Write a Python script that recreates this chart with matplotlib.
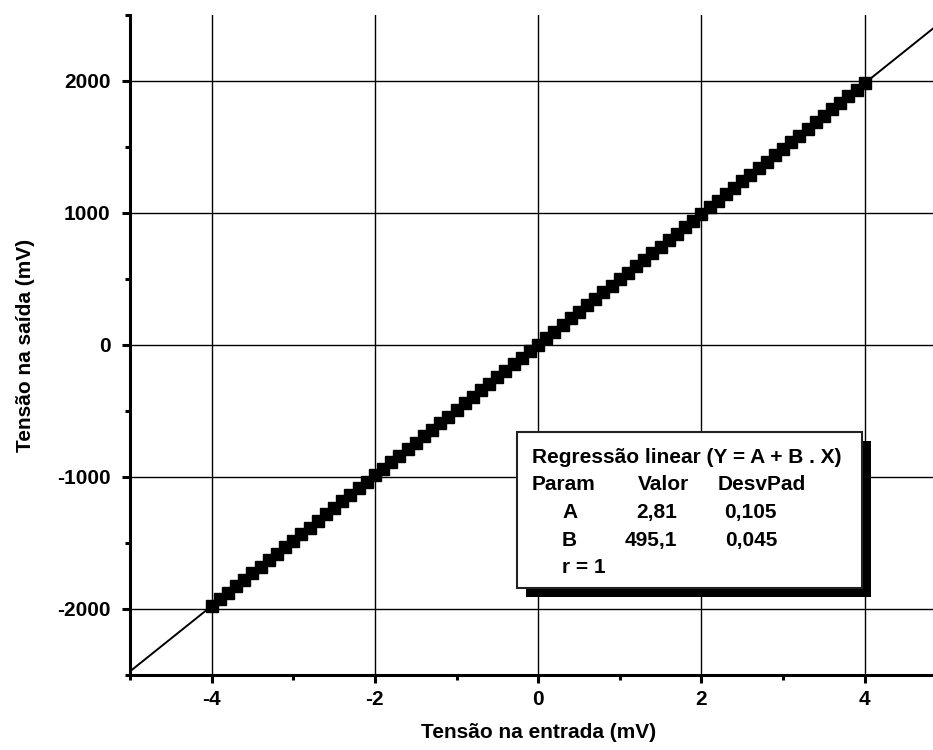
import matplotlib
matplotlib.use('Agg')

import numpy as np
import matplotlib.pyplot as plt
from matplotlib.patches import Rectangle
from matplotlib.ticker import MultipleLocator

# measured points: input voltage (mV) vs output voltage (mV)
entrada = [-4.0, -3.9, -3.8, -3.7, -3.6, -3.5, -3.4, -3.3, -3.2, -3.1,
           -3.0, -2.9, -2.8, -2.7, -2.6, -2.5, -2.4, -2.3, -2.2, -2.1,
           -2.0, -1.9, -1.8, -1.7, -1.6, -1.5, -1.4, -1.3, -1.2, -1.1,
           -1.0, -0.9, -0.8, -0.7, -0.6, -0.5, -0.4, -0.3, -0.2, -0.1,
           0.0, 0.1, 0.2, 0.3, 0.4, 0.5, 0.6, 0.7, 0.8, 0.9,
           1.0, 1.1, 1.2, 1.3, 1.4, 1.5, 1.6, 1.7, 1.8, 1.9,
           2.0, 2.1, 2.2, 2.3, 2.4, 2.5, 2.6, 2.7, 2.8, 2.9,
           3.0, 3.1, 3.2, 3.3, 3.4, 3.5, 3.6, 3.7, 3.8, 3.9, 4.0]
saida = [-1978, -1928, -1879, -1829, -1780, -1730, -1681, -1631, -1582, -1532,
         -1482, -1433, -1383, -1334, -1284, -1235, -1185, -1136, -1086, -1037,
         -987, -938, -888, -839, -789, -740, -690, -641, -591, -542,
         -492, -443, -393, -344, -294, -245, -195, -146, -96, -47,
         3, 52, 102, 151, 201, 250, 300, 349, 399, 448,
         498, 547, 597, 646, 696, 745, 795, 844, 894, 943,
         993, 1043, 1092, 1142, 1191, 1241, 1290, 1340, 1389, 1439,
         1488, 1538, 1587, 1637, 1686, 1736, 1785, 1835, 1884, 1934, 1983]

# fit parameters shown in the box
A, B = 2.81, 495.1
x_ticks = [-4, -2, 0, 2, 4]
y_ticks = [-2000, -1000, 0, 1000, 2000]

plt.rcParams['font.family'] = ['Liberation Sans', 'DejaVu Sans']
plt.rcParams['font.weight'] = 'bold'
plt.rcParams['axes.unicode_minus'] = False

fig = plt.figure(figsize=(9.33, 7.5), dpi=100)
ax = fig.add_axes([0.1393, 0.1, 0.875, 0.88])

ax.set_xlim(-5, 5)
ax.set_ylim(-2500, 2500)

for xv in x_ticks:
    ax.axvline(xv, color='black', lw=1.0, zorder=1)
for yv in y_ticks:
    ax.axhline(yv, color='black', lw=1.0, zorder=1)

xl = np.array([-5, 5])
ax.plot(xl, A + B * xl, color='black', lw=1.4, zorder=2)
ax.plot(entrada, saida, 's', color='black', ms=9, zorder=3)

ax.set_xticks(x_ticks)
ax.set_yticks(y_ticks)
ax.xaxis.set_minor_locator(MultipleLocator(1))
ax.yaxis.set_minor_locator(MultipleLocator(500))
ax.tick_params(which='major', direction='out', length=6, width=2.2,
               labelsize=15, pad=8)
ax.tick_params(axis='x', which='major', pad=5)
ax.tick_params(which='minor', direction='out', length=3.5, width=2.2)
for lab in ax.get_xticklabels() + ax.get_yticklabels():
    lab.set_fontweight('bold')

for s in ['top', 'right']:
    ax.spines[s].set_visible(False)
for s in ['left', 'bottom']:
    ax.spines[s].set_linewidth(2.2)

fig.text(0.577, 0.023, 'Tensão na entrada (mV)', ha='center', va='center',
         fontsize=15, fontweight='bold')
fig.text(0.027, 0.54, 'Tensão na saída (mV)', ha='center', va='center',
         rotation=90, fontsize=15, fontweight='bold')

# regression box with shadow (figure pixel coords -> fractions)
W, H = 933, 750
def fx(px):
    return px / W
def fy(py):
    return 1 - py / H

shadow = Rectangle((fx(526), fy(597)), fx(862) - fx(517), fy(432) - fy(588),
                   transform=fig.transFigure, facecolor='black',
                   edgecolor='none', zorder=4)
box = Rectangle((fx(517), fy(588)), fx(862) - fx(517), fy(432) - fy(588),
                transform=fig.transFigure, facecolor='white',
                edgecolor='#222222', lw=1.5, zorder=5)
fig.patches.extend([shadow, box])

fs = 15
def boxtext(px, py, s, ha='left'):
    fig.text(fx(px), fy(py), s, fontsize=fs, fontweight='bold',
             ha=ha, va='baseline', zorder=6)

boxtext(532, 463, 'Regressão linear (Y = A + B . X)')
boxtext(532, 490, 'Param')
boxtext(638, 490, 'Valor')
boxtext(718, 490, 'DesvPad')

rows = [('A', '2,81', '0,105'), ('B', '495,1', '0,045')]
for i, (p, v, d) in enumerate(rows):
    yb = 518 + 28 * i
    boxtext(562, yb, p)
    boxtext(677, yb, v, ha='right')
    boxtext(777, yb, d, ha='right')
boxtext(562, 573, 'r = 1')

fig.savefig('out.png', dpi=100)
